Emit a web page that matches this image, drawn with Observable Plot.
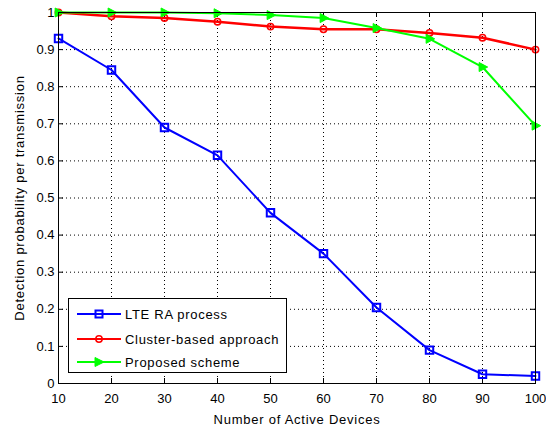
<!DOCTYPE html>
<html>
<head>
<meta charset="utf-8">
<script src="https://cdn.jsdelivr.net/npm/d3@7"></script>
<script src="https://cdn.jsdelivr.net/npm/@observablehq/plot@0.6"></script>
<style>
  body { margin: 0; background: #fff; }
  #wrap { position: relative; width: 546px; height: 427px; font-family: "Liberation Sans", Arial, sans-serif; }
  #legend { position: absolute; left: 68px; top: 298px; width: 219px; height: 75px; border: 1px solid #000; background: #fff; box-sizing: border-box; }
  .row { position: absolute; left: 0; height: 20px; display: flex; align-items: center; }
  .row span { font-size: 13px; color: #000; margin-left: 4px; letter-spacing: 0.7px; }
  svg g[aria-label="x-axis label"] text, svg g[aria-label="y-axis label"] text { letter-spacing: 0.75px; }
</style>
</head>
<body>
<div id="wrap"></div>
<script>
const devices = [10, 20, 30, 40, 50, 60, 70, 80, 90, 100];
const lteRA = [0.93, 0.845, 0.69, 0.615, 0.46, 0.35, 0.205, 0.09, 0.025, 0.02];
const clusterBased = [1.0, 0.99, 0.985, 0.975, 0.962, 0.955, 0.955, 0.945, 0.932, 0.90];
const proposed = [1.0, 1.0, 1.0, 0.998, 0.993, 0.985, 0.958, 0.929, 0.853, 0.695];
const seriesNames = ["LTE RA process", "Cluster-based approach", "Proposed scheme"];
const seriesColors = ["#0000ff", "#ff0000", "#00ff00"];
const xTicks = [10, 20, 30, 40, 50, 60, 70, 80, 90, 100];
const yTicks = [0, 0.1, 0.2, 0.3, 0.4, 0.5, 0.6, 0.7, 0.8, 0.9, 1];

const rows = (vals) => devices.map((d, i) => ({x: d, y: vals[i]}));
const lte = rows(lteRA), clu = rows(clusterBased), pro = rows(proposed);

const triRight = {
  draw(ctx, size) {
    const r = Math.sqrt(size / Math.PI);
    ctx.moveTo(r * 1.15, 0);
    ctx.lineTo(-r * 0.75, -r);
    ctx.lineTo(-r * 0.75, r);
    ctx.closePath();
  }
};

const font = "Liberation Sans, Arial, sans-serif";
const chart = Plot.plot({
  width: 546, height: 427,
  marginLeft: 58, marginRight: 11, marginTop: 12, marginBottom: 44,
  style: {fontFamily: font, fontSize: "13px", color: "#000", background: "#fff"},
  x: {domain: [10, 100], ticks: xTicks, tickSize: 0, tickPadding: 10, label: "Number of Active Devices", labelArrow: "none", labelAnchor: "center", labelOffset: 40},
  y: {domain: [0, 1], ticks: yTicks, tickSize: 0, tickPadding: 4, tickFormat: d => d === 0 || d === 1 ? String(d) : d.toFixed(1), label: "Detection probability per transmission", labelArrow: "none", labelAnchor: "center", labelOffset: 44},
  marks: [
    Plot.ruleX(xTicks.slice(1, -1), {stroke: "#000", strokeDasharray: "1,3", strokeWidth: 1}),
    Plot.ruleY(yTicks.slice(1, -1), {stroke: "#000", strokeDasharray: "1,3", strokeWidth: 1}),
    Plot.ruleX(xTicks, {y1: 0, y2: 0, insetTop: -5, stroke: "#000"}),
    Plot.ruleX(xTicks, {y1: 1, y2: 1, insetBottom: -5, stroke: "#000"}),
    Plot.ruleY(yTicks, {x1: 10, x2: 10, insetRight: -5, stroke: "#000"}),
    Plot.ruleY(yTicks, {x1: 100, x2: 100, insetLeft: -5, stroke: "#000"}),
    Plot.line(lte, {x: "x", y: "y", stroke: seriesColors[0], strokeWidth: 2}),
    Plot.dot(lte, {x: "x", y: "y", symbol: "square", r: 4.2, stroke: seriesColors[0], strokeWidth: 2, fill: "none"}),
    Plot.line(clu, {x: "x", y: "y", stroke: seriesColors[1], strokeWidth: 2.5}),
    Plot.dot(clu, {x: "x", y: "y", symbol: "circle", r: 3.2, stroke: seriesColors[1], strokeWidth: 1.5, fill: "none"}),
    Plot.line(pro, {x: "x", y: "y", stroke: seriesColors[2], strokeWidth: 2}),
    Plot.dot(pro, {x: "x", y: "y", symbol: triRight, r: 4.5, stroke: seriesColors[2], strokeWidth: 1, fill: seriesColors[2]}),
    Plot.frame({stroke: "#000"})
  ]
});
const wrap = document.getElementById("wrap");
wrap.appendChild(chart);

// legend overlay
const legend = document.createElement("div");
legend.id = "legend";
const symbols = [
  '<rect x="18.5" y="6.5" width="7" height="7" fill="none" stroke="COL" stroke-width="2"/>',
  '<circle cx="22" cy="10" r="3.2" fill="none" stroke="COL" stroke-width="1.5"/>',
  '<path d="M27,10 L18,5.5 L18,14.5 Z" fill="COL" stroke="COL"/>'
];
const tops = [5, 30, 53];
seriesNames.forEach((name, i) => {
  const row = document.createElement("div");
  row.className = "row";
  row.style.top = tops[i] + "px";
  row.style.left = "8px";
  row.innerHTML = `<svg width="44" height="20"><line x1="0" y1="10" x2="44" y2="10" stroke="${seriesColors[i]}" stroke-width="2"/>${symbols[i].replace(/COL/g, seriesColors[i])}</svg><span>${name}</span>`;
  legend.appendChild(row);
});
wrap.appendChild(legend);
</script>
</body>
</html>
